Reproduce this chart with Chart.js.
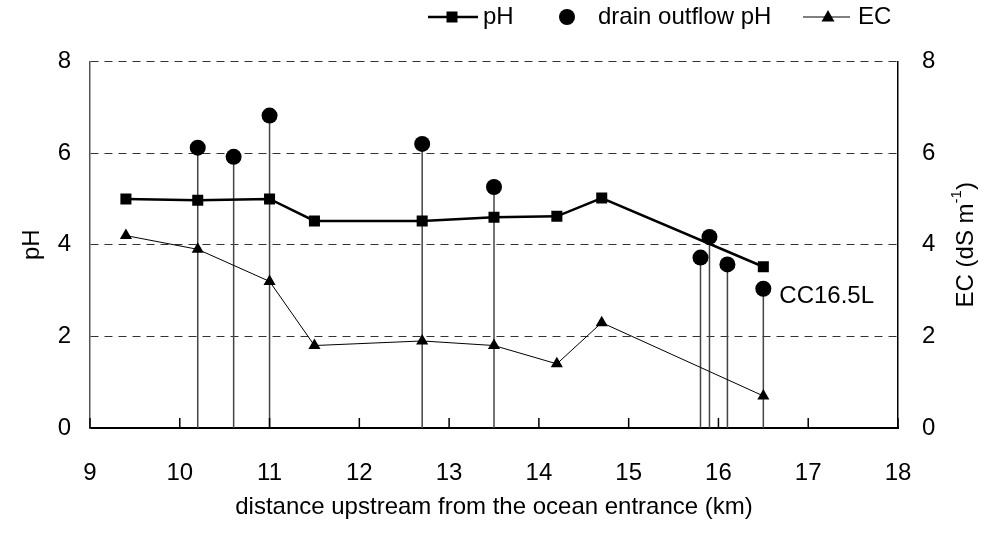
<!DOCTYPE html>
<html>
<head>
<meta charset="utf-8">
<script src="https://cdn.jsdelivr.net/npm/chart.js@4.4.1/dist/chart.umd.min.js"></script>
<style>
  body { margin: 0; background: #fff; }
  #wrap { width: 986px; height: 546px; }
</style>
</head>
<body>
<div id="wrap"><canvas id="myChart" width="986" height="546"></canvas></div>
<script>
// sampling stations along the river (km from the ocean entrance)
const stationKm = [9.4, 10.2, 11.0, 11.5, 12.7, 13.5, 14.2, 14.7, 16.5];
const phValues = [5.0, 4.97, 5.0, 4.52, 4.52, 4.6, 4.62, 5.02, 3.52];
const ecValues = [4.2, 3.9, 3.2, 1.8, 1.9, 1.8, 1.4, 2.3, 0.7];

// drain outflows
const drainKm = [10.2, 10.6, 11.0, 12.7, 13.5, 15.8, 15.9, 16.1, 16.5];
const drainPh = [6.12, 5.92, 6.82, 6.2, 5.26, 3.72, 4.17, 3.57, 3.04];

const xTicks = [9, 10, 11, 12, 13, 14, 15, 16, 17, 18];
const yTicks = [0, 2, 4, 6, 8];

const FONT = "'Liberation Sans', Arial, sans-serif";

function toPoints(xs, ys) {
  return xs.map((x, i) => ({ x: x, y: ys[i] }));
}

// drop lines under the drain points, inward x ticks, legend, labels
const extras = {
  id: "extras",
  beforeDatasetsDraw(chart) {
    const ctx = chart.ctx;
    const area = chart.chartArea;
    const meta = chart.getDatasetMeta(1);
    ctx.save();
    ctx.strokeStyle = "#444";
    ctx.lineWidth = 1.5;
    meta.data.forEach((pt) => {
      ctx.beginPath();
      ctx.moveTo(pt.x, pt.y);
      ctx.lineTo(pt.x, area.bottom);
      ctx.stroke();
    });
    // tick marks pointing into the plot
    const xs = chart.scales.x;
    ctx.strokeStyle = "#000";
    ctx.lineWidth = 1.5;
    xTicks.forEach((v) => {
      const px = xs.getPixelForValue(v);
      ctx.beginPath();
      ctx.moveTo(px, area.bottom);
      ctx.lineTo(px, area.bottom - 10);
      ctx.stroke();
    });
    ctx.restore();
  },
  afterDraw(chart) {
    const ctx = chart.ctx;
    ctx.save();
    ctx.fillStyle = "#000";
    ctx.strokeStyle = "#000";
    ctx.font = "24px " + FONT;
    ctx.textBaseline = "middle";
    ctx.textAlign = "left";

    // legend
    const ly = 17;
    ctx.lineWidth = 2.5;
    ctx.beginPath();
    ctx.moveTo(428, ly);
    ctx.lineTo(478, ly);
    ctx.stroke();
    ctx.fillRect(452 - 5.5, ly - 5.5, 11, 11);
    ctx.fillText("pH", 483, ly);

    ctx.beginPath();
    ctx.arc(567, ly, 8, 0, Math.PI * 2);
    ctx.fill();
    ctx.fillText("drain outflow pH", 598, ly);

    ctx.lineWidth = 1;
    ctx.beginPath();
    ctx.moveTo(803, ly);
    ctx.lineTo(850, ly);
    ctx.stroke();
    ctx.beginPath();
    ctx.moveTo(828, ly - 7);
    ctx.lineTo(834.5, ly + 4.5);
    ctx.lineTo(821.5, ly + 4.5);
    ctx.closePath();
    ctx.fill();
    ctx.fillText("EC", 858, ly);

    // station label next to the last drain point
    const last = chart.getDatasetMeta(1).data[drainKm.length - 1];
    ctx.fillText("CC16.5L", last.x + 16, last.y + 8);

    // right axis title, reading bottom to top with superscript
    const area = chart.chartArea;
    const cy = (area.top + area.bottom) / 2;
    ctx.translate(966, cy);
    ctx.rotate(-Math.PI / 2);
    const main = "EC (dS m";
    ctx.font = "24px " + FONT;
    const w1 = ctx.measureText(main).width;
    ctx.font = "15px " + FONT;
    const w2 = ctx.measureText("-1").width;
    ctx.font = "24px " + FONT;
    const w3 = ctx.measureText(")").width;
    let tx = -(w1 + w2 + w3) / 2;
    ctx.fillText(main, tx, 0);
    tx += w1;
    ctx.font = "15px " + FONT;
    ctx.fillText("-1", tx, -9);
    tx += w2;
    ctx.font = "24px " + FONT;
    ctx.fillText(")", tx, 0);
    ctx.restore();
  },
};

const ctx = document.getElementById("myChart").getContext("2d");

new Chart(ctx, {
  type: "scatter",
  data: {
    datasets: [
      {
        label: "pH",
        data: toPoints(stationKm, phValues),
        showLine: true,
        borderColor: "#000",
        borderWidth: 2.5,
        backgroundColor: "#000",
        pointStyle: "rect",
        pointRadius: 7.8,
        pointBorderWidth: 0,
        yAxisID: "y",
        order: 2,
      },
      {
        label: "drain outflow pH",
        data: toPoints(drainKm, drainPh),
        showLine: false,
        backgroundColor: "#000",
        borderColor: "#000",
        pointStyle: "circle",
        pointRadius: 8,
        pointBorderWidth: 0,
        yAxisID: "y",
        order: 1,
      },
      {
        label: "EC",
        data: toPoints(stationKm, ecValues),
        showLine: true,
        borderColor: "#000",
        borderWidth: 1,
        backgroundColor: "#000",
        pointStyle: "triangle",
        pointRadius: 7,
        pointBorderWidth: 0,
        yAxisID: "y1",
        order: 3,
      },
    ],
  },
  options: {
    responsive: false,
    animation: false,
    layout: { padding: { top: 61.5, left: 0, right: 0, bottom: 0 } },
    scales: {
      x: {
        type: "linear",
        min: 9,
        max: 18,
        afterBuildTicks: (s) => { s.ticks = xTicks.map((v) => ({ value: v })); },
        afterFit: (s) => { s.height = 118; },
        ticks: { color: "#000", font: { size: 24, family: FONT }, padding: 31 },
        grid: { display: false, drawTicks: false },
        border: { display: true, color: "#000", width: 2 },
        title: {
          display: true,
          text: "distance upstream from the ocean entrance (km)",
          color: "#000",
          font: { size: 24, family: FONT },
          padding: { top: 0, bottom: 24 },
        },
      },
      y: {
        position: "left",
        min: 0,
        max: 8,
        afterBuildTicks: (s) => { s.ticks = yTicks.map((v) => ({ value: v })); },
        afterFit: (s) => { s.width = 90; },
        ticks: { color: "#000", font: { size: 24, family: FONT }, padding: 19 },
        grid: {
          drawTicks: false,
          lineWidth: 1,
          color: (c) => (c.tick && c.tick.value === 0 ? "rgba(0,0,0,0)" : "#333"),
        },
        border: { display: true, color: "#555", width: 1.5, dash: [8, 6] },
        title: {
          display: true,
          text: "pH",
          color: "#000",
          font: { size: 24, family: FONT },
          padding: { top: 18, bottom: 0 },
        },
      },
      y1: {
        position: "right",
        min: 0,
        max: 8,
        afterBuildTicks: (s) => { s.ticks = yTicks.map((v) => ({ value: v })); },
        afterFit: (s) => { s.width = 88; },
        ticks: { color: "#000", font: { size: 24, family: FONT }, padding: 24 },
        grid: { drawOnChartArea: false, drawTicks: false },
        border: { display: true, color: "#000", width: 1.5 },
      },
    },
    plugins: {
      legend: { display: false },
      tooltip: { enabled: false },
    },
  },
  plugins: [extras],
});
</script>
</body>
</html>
